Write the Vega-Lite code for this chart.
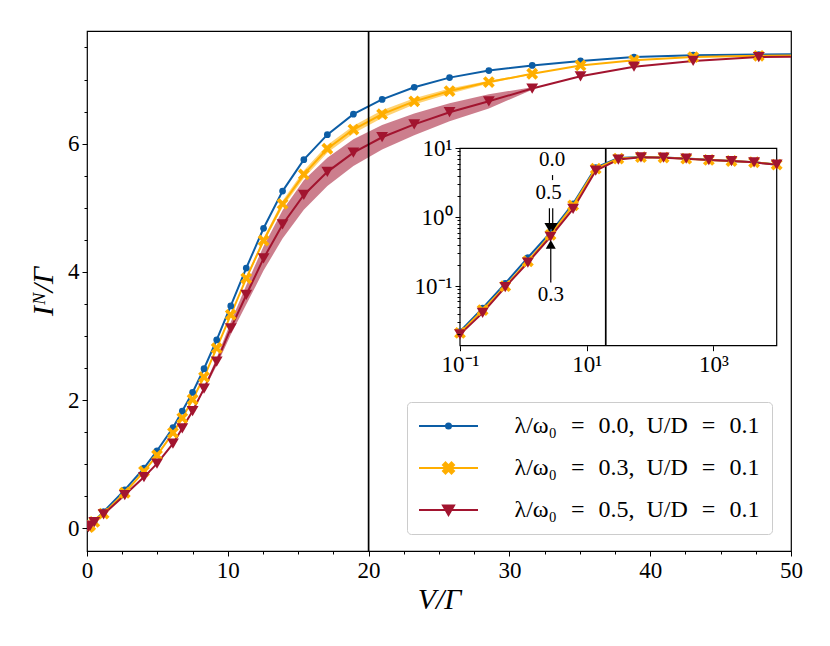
{
  "$schema": "https://vega.github.io/schema/vega-lite/v6.json",
  "width": 704,
  "height": 520,
  "autosize": "none",
  "padding": {"left": 87, "top": 31, "right": 39, "bottom": 95},
  "config": {
    "view": {"stroke": "#000", "strokeWidth": 1.2},
    "font": "Liberation Serif",
    "axis": {
      "grid": false, "domain": false, "tickColor": "#000", "tickWidth": 1, "tickSize": 5,
      "labelColor": "#000", "labelFont": "Liberation Serif", "labelFontSize": 23, "labelPadding": 3,
      "labelFlush": false, "labelOverlap": false,
      "titleFont": "Liberation Serif", "titleFontSize": 30, "titleFontWeight": "normal",
      "titleFontStyle": "italic", "titleColor": "#000"
    }
  },
  "datasets": {
    "main": [
      {"s":"0.0","V":0.1,"I":0.022},{"s":"0.0","V":0.228,"I":0.048},{"s":"0.0","V":0.518,"I":0.11},
      {"s":"0.0","V":1.179,"I":0.26},{"s":"0.0","V":2.683,"I":0.6},{"s":"0.0","V":4.047,"I":0.94},
      {"s":"0.0","V":4.972,"I":1.21},{"s":"0.0","V":6.105,"I":1.57},{"s":"0.0","V":6.767,"I":1.83},
      {"s":"0.0","V":7.499,"I":2.12},{"s":"0.0","V":8.311,"I":2.49},{"s":"0.0","V":9.211,"I":2.94},
      {"s":"0.0","V":10.21,"I":3.47},{"s":"0.0","V":11.31,"I":4.06},{"s":"0.0","V":12.54,"I":4.68},
      {"s":"0.0","V":13.89,"I":5.26},{"s":"0.0","V":15.4,"I":5.75},{"s":"0.0","V":17.07,"I":6.14},
      {"s":"0.0","V":18.92,"I":6.46},{"s":"0.0","V":20.96,"I":6.69},{"s":"0.0","V":23.24,"I":6.88},
      {"s":"0.0","V":25.75,"I":7.03},{"s":"0.0","V":28.54,"I":7.14},{"s":"0.0","V":31.62,"I":7.22},
      {"s":"0.0","V":35.05,"I":7.29},{"s":"0.0","V":38.85,"I":7.35},{"s":"0.0","V":43.05,"I":7.38},
      {"s":"0.0","V":47.71,"I":7.39},{"s":"0.0","V":52.88,"I":7.4},

      {"s":"0.3","V":0.1,"I":0.021},{"s":"0.3","V":0.228,"I":0.045},{"s":"0.3","V":0.518,"I":0.1},
      {"s":"0.3","V":1.179,"I":0.23},{"s":"0.3","V":2.683,"I":0.555},{"s":"0.3","V":4.047,"I":0.89},
      {"s":"0.3","V":4.972,"I":1.14},{"s":"0.3","V":6.105,"I":1.49},{"s":"0.3","V":6.767,"I":1.72},
      {"s":"0.3","V":7.499,"I":2.01},{"s":"0.3","V":8.311,"I":2.36},{"s":"0.3","V":9.211,"I":2.81},
      {"s":"0.3","V":10.21,"I":3.33},{"s":"0.3","V":11.31,"I":3.9,"lo":3.88,"hi":3.92},
      {"s":"0.3","V":12.54,"I":4.49,"lo":4.45,"hi":4.53},{"s":"0.3","V":13.89,"I":5.06,"lo":5.01,"hi":5.11},
      {"s":"0.3","V":15.4,"I":5.52,"lo":5.46,"hi":5.58},{"s":"0.3","V":17.07,"I":5.92,"lo":5.86,"hi":5.98},
      {"s":"0.3","V":18.92,"I":6.22,"lo":6.16,"hi":6.28},{"s":"0.3","V":20.96,"I":6.46,"lo":6.4,"hi":6.52},
      {"s":"0.3","V":23.24,"I":6.66,"lo":6.61,"hi":6.71},{"s":"0.3","V":25.75,"I":6.82,"lo":6.78,"hi":6.86},
      {"s":"0.3","V":28.54,"I":6.96,"lo":6.94,"hi":6.98},{"s":"0.3","V":31.62,"I":7.09,"lo":7.08,"hi":7.1},
      {"s":"0.3","V":35.05,"I":7.22},{"s":"0.3","V":38.85,"I":7.3},{"s":"0.3","V":43.05,"I":7.35},
      {"s":"0.3","V":47.71,"I":7.37},{"s":"0.3","V":52.88,"I":7.38},

      {"s":"0.5","V":0.1,"I":0.02},{"s":"0.5","V":0.228,"I":0.041},{"s":"0.5","V":0.518,"I":0.097},
      {"s":"0.5","V":1.179,"I":0.22},{"s":"0.5","V":2.683,"I":0.52},{"s":"0.5","V":4.047,"I":0.8},
      {"s":"0.5","V":4.972,"I":1.01},{"s":"0.5","V":6.105,"I":1.32},{"s":"0.5","V":6.767,"I":1.56},
      {"s":"0.5","V":7.499,"I":1.83,"lo":1.83,"hi":1.83},{"s":"0.5","V":8.311,"I":2.18,"lo":2.15,"hi":2.21},
      {"s":"0.5","V":9.211,"I":2.6,"lo":2.54,"hi":2.66},{"s":"0.5","V":10.21,"I":3.12,"lo":3.02,"hi":3.22},
      {"s":"0.5","V":11.31,"I":3.64,"lo":3.49,"hi":3.79},{"s":"0.5","V":12.54,"I":4.21,"lo":4.02,"hi":4.4},
      {"s":"0.5","V":13.89,"I":4.74,"lo":4.52,"hi":4.96},{"s":"0.5","V":15.4,"I":5.2,"lo":4.97,"hi":5.43},
      {"s":"0.5","V":17.07,"I":5.56,"lo":5.34,"hi":5.78},{"s":"0.5","V":18.92,"I":5.86,"lo":5.65,"hi":6.07},
      {"s":"0.5","V":20.96,"I":6.1,"lo":5.91,"hi":6.29},{"s":"0.5","V":23.24,"I":6.3,"lo":6.13,"hi":6.47},
      {"s":"0.5","V":25.75,"I":6.49,"lo":6.35,"hi":6.63},{"s":"0.5","V":28.54,"I":6.66,"lo":6.55,"hi":6.77},
      {"s":"0.5","V":31.62,"I":6.86,"lo":6.84,"hi":6.88},{"s":"0.5","V":35.05,"I":7.05},
      {"s":"0.5","V":38.85,"I":7.2},{"s":"0.5","V":43.05,"I":7.29},{"s":"0.5","V":47.71,"I":7.35},
      {"s":"0.5","V":52.88,"I":7.36}
    ],
    "inset": [
      {"s":"0.0","V":0.1,"I":0.022},{"s":"0.0","V":0.2276,"I":0.048},{"s":"0.0","V":0.518,"I":0.11},
      {"s":"0.0","V":1.179,"I":0.26},{"s":"0.0","V":2.683,"I":0.6},{"s":"0.0","V":6.105,"I":1.57},
      {"s":"0.0","V":13.89,"I":5.26},{"s":"0.0","V":31.62,"I":7.22},{"s":"0.0","V":71.97,"I":7.45},
      {"s":"0.0","V":163.8,"I":7.36},{"s":"0.0","V":372.8,"I":7.1},{"s":"0.0","V":848.3,"I":6.8},
      {"s":"0.0","V":1931,"I":6.56},{"s":"0.0","V":4394,"I":6.28},{"s":"0.0","V":10000,"I":5.82},
      {"s":"0.3","V":0.1,"I":0.021},{"s":"0.3","V":0.2276,"I":0.045},{"s":"0.3","V":0.518,"I":0.1},
      {"s":"0.3","V":1.179,"I":0.23},{"s":"0.3","V":2.683,"I":0.555},{"s":"0.3","V":6.105,"I":1.49},
      {"s":"0.3","V":13.89,"I":5.06},{"s":"0.3","V":31.62,"I":7.09},{"s":"0.3","V":71.97,"I":7.43},
      {"s":"0.3","V":163.8,"I":7.34},{"s":"0.3","V":372.8,"I":7.08},{"s":"0.3","V":848.3,"I":6.78},
      {"s":"0.3","V":1931,"I":6.55},{"s":"0.3","V":4394,"I":6.27},{"s":"0.3","V":10000,"I":5.8},
      {"s":"0.5","V":0.1,"I":0.02},{"s":"0.5","V":0.2276,"I":0.041},{"s":"0.5","V":0.518,"I":0.097},
      {"s":"0.5","V":1.179,"I":0.22},{"s":"0.5","V":2.683,"I":0.52},{"s":"0.5","V":6.105,"I":1.32},
      {"s":"0.5","V":13.89,"I":4.74},{"s":"0.5","V":31.62,"I":6.86},{"s":"0.5","V":71.97,"I":7.4},
      {"s":"0.5","V":163.8,"I":7.31},{"s":"0.5","V":372.8,"I":7.06},{"s":"0.5","V":848.3,"I":6.76},
      {"s":"0.5","V":1931,"I":6.53},{"s":"0.5","V":4394,"I":6.25},{"s":"0.5","V":10000,"I":5.78}
    ],
    "stems": [
      {"V":2.89,"y":4.09,"y2":3.46},{"V":2.58,"y":1.35,"y2":0.82},
      {"V":2.91,"y":1.35,"y2":0.82},{"V":2.71,"y":0.354,"y2":0.113}
    ],
    "heads": [
      {"V":2.58,"y":0.715,"dir":"down"},{"V":2.91,"y":0.715,"dir":"down"},{"V":2.71,"y":0.405,"dir":"up"}
    ],
    "notes": [
      {"V":2.84,"y":6.76,"t":"0.0"},{"V":2.5,"y":2.21,"t":"0.5"},{"V":2.72,"y":0.0733,"t":"0.3"}
    ],
    "series": [
      {"lab":"λ/ω₀\u2002\u200a=\u2002\u200a0.0,\u2002U/D\u2002\u200a=\u2002\u200a0.1"},
      {"lab":"λ/ω₀\u2002\u200a=\u2002\u200a0.3,\u2002U/D\u2002\u200a=\u2002\u200a0.1"},
      {"lab":"λ/ω₀\u2002\u200a=\u2002\u200a0.5,\u2002U/D\u2002\u200a=\u2002\u200a0.1"}
    ]
  },
  "layer": [
    {
      "resolve": {"axis": {"x": "independent", "y": "independent"}},
      "layer": [
        {
          "data": {"name": "main"},
          "transform": [{"filter": "isValid(datum.lo)"}],
          "mark": {"type": "area", "opacity": 0.55, "clip": true},
          "encoding": {
            "x": {"field": "V", "type": "quantitative", "axis": null},
            "y": {"field": "lo", "type": "quantitative", "axis": null},
            "y2": {"field": "hi"},
            "color": {"field": "s", "type": "nominal", "legend": null}
          }
        },
        {
          "data": {"name": "main"},
          "mark": {"type": "line", "strokeWidth": 2, "clip": true},
          "encoding": {
            "x": {"field": "V", "type": "quantitative",
              "scale": {"domain": [0, 50], "nice": false, "zero": false},
              "axis": {"orient": "bottom", "values": [0, 10, 20, 30, 40, 50], "format": "d", "title": "V/Γ", "titlePadding": 2}},
            "y": {"field": "I", "type": "quantitative",
              "scale": {"domain": [-0.353, 7.757], "nice": false, "zero": false},
              "axis": {"orient": "left", "values": [0, 2, 4, 6], "format": "d", "title": "Iᴺ/Γ", "titlePadding": 9}},
            "color": {"field": "s", "type": "nominal", "legend": null,
              "scale": {"domain": ["0.0", "0.3", "0.5"], "range": ["#0C5DA5", "#FFAE00", "#A2142F"]}}
          }
        },
        {
          "data": {"name": "main"},
          "transform": [{"filter": "datum.s == '0.0'"}],
          "mark": {"type": "point", "shape": "circle", "filled": true, "size": 45, "opacity": 1, "clip": true},
          "encoding": {
            "x": {"field": "V", "type": "quantitative",
              "axis": {"orient": "bottom", "values": [2.5, 5, 7.5, 12.5, 15, 17.5, 22.5, 25, 27.5, 32.5, 35, 37.5, 42.5, 45, 47.5], "labels": false, "tickSize": 3, "title": null}},
            "y": {"field": "I", "type": "quantitative",
              "axis": {"orient": "left", "values": [0.5, 1, 1.5, 2.5, 3, 3.5, 4.5, 5, 5.5, 6.5, 7, 7.5], "labels": false, "tickSize": 3, "title": null}},
            "color": {"field": "s", "type": "nominal", "legend": null}
          }
        },
        {
          "data": {"name": "main"},
          "transform": [{"filter": "datum.s == '0.3'"}],
          "mark": {"type": "point", "shape": "M-0.55,-1L0,-0.45L0.55,-1L1,-0.55L0.45,0L1,0.55L0.55,1L0,0.45L-0.55,1L-1,0.55L-0.45,0L-1,-0.55Z", "filled": true, "size": 140, "opacity": 1, "clip": true},
          "encoding": {
            "x": {"field": "V", "type": "quantitative", "axis": null},
            "y": {"field": "I", "type": "quantitative", "axis": null},
            "color": {"field": "s", "type": "nominal", "legend": null}
          }
        },
        {
          "data": {"name": "main"},
          "transform": [{"filter": "datum.s == '0.5'"}],
          "mark": {"type": "point", "shape": "triangle-down", "filled": true, "size": 140, "opacity": 1, "clip": true},
          "encoding": {
            "x": {"field": "V", "type": "quantitative", "axis": null},
            "y": {"field": "I", "type": "quantitative", "axis": null},
            "color": {"field": "s", "type": "nominal", "legend": null}
          }
        },
        {
          "data": {"values": [{}]},
          "mark": {"type": "rule", "color": "#000", "strokeWidth": 1.7},
          "encoding": {"x": {"datum": 20, "type": "quantitative", "axis": null}}
        },
        {
          "data": {"name": "series"},
          "transform": [{"filter": "datum.lab == 'none'"}],
          "mark": {"type": "point", "filled": true},
          "encoding": {
            "shape": {"field": "lab", "type": "nominal",
              "scale": {"domain": {"data": "series", "field": "lab"},
                "range": [
                "M-2.95,0H2.95M0.25,0A0.25,0.25,0,1,1,-0.25,0A0.25,0.25,0,1,1,0.25,0",
                "M-2.95,0H2.95M-0.3,-0.55L0,-0.25L0.3,-0.55L0.55,-0.3L0.25,0L0.55,0.3L0.3,0.55L0,0.25L-0.3,0.55L-0.55,0.3L-0.25,0L-0.55,-0.3Z",
                "M-2.95,0H2.95M-0.55,-0.45L0.55,-0.45L0,0.5Z"]},
              "legend": {"title": null, "orient": "none", "legendX": 320, "legendY": 371, "padding": 12,
                "fillColor": "#fff", "strokeColor": "#cccccc", "cornerRadius": 4,
                "symbolSize": 400, "symbolStrokeWidth": 2, "symbolOffset": 17.5, "labelOffset": 54,
                "rowPadding": 18, "labelFont": "Liberation Serif", "labelFontSize": 24, "labelLimit": 500,
                "labelColor": "#000", "symbolOpacity": 1}},
            "fill": {"field": "lab", "type": "nominal",
              "scale": {"domain": {"data": "series", "field": "lab"}, "range": ["#0C5DA5", "#FFAE00", "#A2142F"]}},
            "stroke": {"field": "lab", "type": "nominal",
              "scale": {"domain": {"data": "series", "field": "lab"}, "range": ["#0C5DA5", "#FFAE00", "#A2142F"]}}
          }
        }
      ]
    },
    {
      "resolve": {"axis": {"y": "independent"}},
      "layer": [
        {
          "data": {"values": [{}]},
          "mark": {"type": "rect", "fill": "#fff", "stroke": "#000", "strokeWidth": 1.2},
          "encoding": {
            "x": {"datum": 0.1, "type": "quantitative",
              "scale": {"type": "log", "domain": [0.1, 10000], "range": [373, 689.7], "nice": false},
              "axis": {"orient": "bottom", "offset": -205.3, "values": [0.1, 10, 1000], "title": null, "zindex": 1,
                "labelExpr": "datum.value > 500 ? '10³' : datum.value > 5 ? '10¹' : '10⁻¹'"}},
            "x2": {"datum": 10000},
            "y": {"datum": 0.0137, "type": "quantitative",
              "scale": {"type": "log", "domain": [0.0137, 10], "range": [314.7, 117.3], "nice": false},
              "axis": {"orient": "left", "offset": -373, "values": [0.1, 1, 10], "title": null, "zindex": 1,
                "labelExpr": "datum.value > 5 ? '10¹' : datum.value > 0.5 ? '10⁰' : '10⁻¹'"}},
            "y2": {"datum": 10}
          }
        },
        {
          "data": {"values": [{}]},
          "mark": {"type": "rule", "color": "#000", "strokeWidth": 1.7},
          "encoding": {
            "x": {"datum": 20, "type": "quantitative"},
            "y": {"datum": 0.0137, "type": "quantitative",
              "axis": {"orient": "left", "offset": -373, "title": null, "zindex": 1, "labels": false, "tickSize": 3,
                "values": [0.02, 0.03, 0.04, 0.05, 0.06, 0.07, 0.08, 0.09, 0.2, 0.3, 0.4, 0.5, 0.6, 0.7, 0.8, 0.9, 2, 3, 4, 5, 6, 7, 8, 9]}},
            "y2": {"datum": 10}
          }
        },
        {
          "data": {"name": "inset"},
          "mark": {"type": "line", "strokeWidth": 2},
          "encoding": {
            "x": {"field": "V", "type": "quantitative"},
            "y": {"field": "I", "type": "quantitative", "axis": null},
            "color": {"field": "s", "type": "nominal", "legend": null}
          }
        },
        {
          "data": {"name": "inset"},
          "transform": [{"filter": "datum.s == '0.0'"}],
          "mark": {"type": "point", "shape": "circle", "filled": true, "size": 45, "opacity": 1},
          "encoding": {
            "x": {"field": "V", "type": "quantitative"},
            "y": {"field": "I", "type": "quantitative", "axis": null},
            "color": {"field": "s", "type": "nominal", "legend": null}
          }
        },
        {
          "data": {"name": "inset"},
          "transform": [{"filter": "datum.s == '0.3'"}],
          "mark": {"type": "point", "shape": "M-0.55,-1L0,-0.45L0.55,-1L1,-0.55L0.45,0L1,0.55L0.55,1L0,0.45L-0.55,1L-1,0.55L-0.45,0L-1,-0.55Z", "filled": true, "size": 140, "opacity": 1},
          "encoding": {
            "x": {"field": "V", "type": "quantitative"},
            "y": {"field": "I", "type": "quantitative", "axis": null},
            "color": {"field": "s", "type": "nominal", "legend": null}
          }
        },
        {
          "data": {"name": "inset"},
          "transform": [{"filter": "datum.s == '0.5'"}],
          "mark": {"type": "point", "shape": "triangle-down", "filled": true, "size": 140, "opacity": 1},
          "encoding": {
            "x": {"field": "V", "type": "quantitative"},
            "y": {"field": "I", "type": "quantitative", "axis": null},
            "color": {"field": "s", "type": "nominal", "legend": null}
          }
        },
        {
          "data": {"name": "stems"},
          "mark": {"type": "rule", "color": "#000", "strokeWidth": 1.2},
          "encoding": {
            "x": {"field": "V", "type": "quantitative"},
            "y": {"field": "y", "type": "quantitative", "axis": null},
            "y2": {"field": "y2"}
          }
        },
        {
          "data": {"name": "heads"},
          "transform": [{"filter": "datum.dir == 'down'"}],
          "mark": {"type": "point", "shape": "triangle-down", "filled": true, "size": 100, "opacity": 1, "color": "#000"},
          "encoding": {
            "x": {"field": "V", "type": "quantitative"},
            "y": {"field": "y", "type": "quantitative", "axis": null}
          }
        },
        {
          "data": {"name": "heads"},
          "transform": [{"filter": "datum.dir == 'up'"}],
          "mark": {"type": "point", "shape": "triangle-up", "filled": true, "size": 100, "opacity": 1, "color": "#000"},
          "encoding": {
            "x": {"field": "V", "type": "quantitative"},
            "y": {"field": "y", "type": "quantitative", "axis": null}
          }
        },
        {
          "data": {"name": "notes"},
          "mark": {"type": "text", "font": "Liberation Serif", "fontSize": 21, "color": "#000", "align": "center", "baseline": "middle"},
          "encoding": {
            "x": {"field": "V", "type": "quantitative"},
            "y": {"field": "y", "type": "quantitative", "axis": null},
            "text": {"field": "t"}
          }
        }
      ]
    }
  ],
  "resolve": {"scale": {"x": "independent", "y": "independent"}}
}
